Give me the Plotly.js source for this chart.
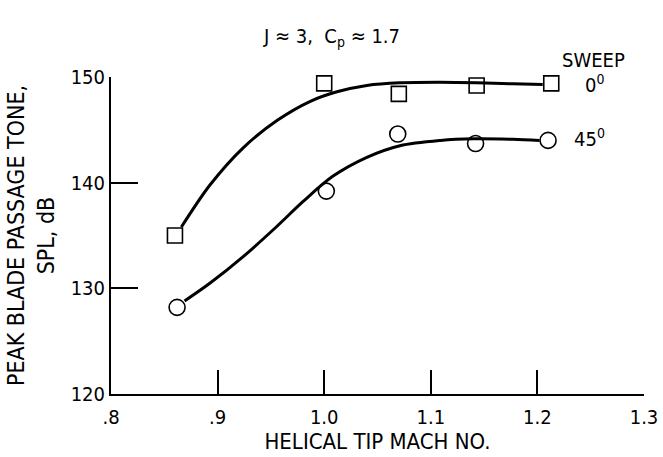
<!DOCTYPE html>
<html>
<head>
<meta charset="utf-8">
<script src="https://cdn.plot.ly/plotly-3.0.1.min.js"></script>
<style>
  html, body { margin: 0; padding: 0; background: #fff; }
  #chart { width: 663px; height: 457px; }
</style>
</head>
<body>
<div id="chart"></div>
<script>
// Measured points, sweep 0 deg (squares)
const machSweep0 = [0.860, 1.000, 1.070, 1.143, 1.213];
const splSweep0  = [135.0, 149.4, 148.4, 149.2, 149.4];

// Measured points, sweep 45 deg (circles)
const machSweep45 = [0.862, 1.002, 1.069, 1.142, 1.210];
const splSweep45  = [128.2, 139.2, 144.6, 143.7, 144.0];

// Faired curves
const fairX0 = [0.866, 0.893, 0.924, 0.956, 0.987, 1.012, 1.040, 1.071, 1.109, 1.143, 1.177, 1.205];
const fairY0 = [135.8, 139.8, 143.3, 145.9, 147.7, 148.6, 149.2, 149.45, 149.5, 149.45, 149.35, 149.3];
const fairX45 = [0.869, 0.893, 0.924, 0.956, 0.980, 1.008, 1.040, 1.071, 1.109, 1.140, 1.177, 1.202];
const fairY45 = [128.8, 130.5, 133.0, 135.9, 138.2, 140.6, 142.4, 143.5, 144.0, 144.15, 144.1, 144.0];

const xTickVals = [0.8, 0.9, 1.0, 1.1, 1.2, 1.3];
const xTickText = ['.8', '.9', '1.0', '1.1', '1.2', '1.3'];
const yTickVals = [120, 130, 140, 150];
const yTickText = ['120', '130', '140', '150'];

const titleText = 'J \u2248 3,  C<sub>p</sub> \u2248 1.7';
const xTitle = 'HELICAL TIP MACH NO.';
const yTitle = 'PEAK BLADE PASSAGE TONE,<br>SPL, dB';
const sweepTitle = 'SWEEP';
const sweepLabels = ['0<sup>0</sup>', '45<sup>0</sup>'];

const FONT = '"Liberation Sans Narrow", "DejaVu Sans Condensed", "Arial Narrow", sans-serif';

const traces = [
  { x: fairX0, y: fairY0, mode: 'lines', line: { color: '#000', width: 3, shape: 'spline', smoothing: 0.9 }, hoverinfo: 'skip', cliponaxis: false },
  { x: fairX45, y: fairY45, mode: 'lines', line: { color: '#000', width: 3, shape: 'spline', smoothing: 0.9 }, hoverinfo: 'skip', cliponaxis: false },
  { x: machSweep0, y: splSweep0, mode: 'markers', cliponaxis: false,
    marker: { symbol: 'square-open', size: 15, color: '#000', line: { width: 1.6, color: '#000' } } },
  { x: machSweep45, y: splSweep45, mode: 'markers', cliponaxis: false,
    marker: { symbol: 'circle-open', size: 16, color: '#000', line: { width: 1.6, color: '#000' } } }
];

const layout = {
  width: 663, height: 457,
  margin: { l: 111, r: 19, t: 77, b: 63 },
  paper_bgcolor: '#fff', plot_bgcolor: '#fff',
  showlegend: false,
  font: { family: FONT, color: '#000', size: 20 },
  title: { text: titleText, font: { family: FONT, size: 20, color: '#000' },
           x: 332 / 663, xref: 'container', xanchor: 'center',
           y: 1 - 36 / 457, yref: 'container', yanchor: 'middle' },
  xaxis: {
    range: [0.8, 1.3], tickmode: 'array', tickvals: xTickVals, ticktext: xTickText,
    showgrid: false, zeroline: false, showline: true, linecolor: '#000', linewidth: 2,
    ticks: 'inside', ticklen: 24, tickwidth: 2, tickcolor: '#000',
    ticklabelstandoff: 4,
    tickfont: { family: FONT, size: 20, color: '#000' },
    title: { text: xTitle, font: { family: FONT, size: 22, color: '#000' }, standoff: 4 }
  },
  yaxis: {
    range: [120, 150], tickmode: 'array', tickvals: yTickVals, ticktext: yTickText,
    showgrid: false, zeroline: false, showline: true, linecolor: '#000', linewidth: 2,
    ticks: 'inside', ticklen: 27, tickwidth: 2, tickcolor: '#000',
    tickfont: { family: FONT, size: 20, color: '#000' },
    title: { text: yTitle, font: { family: FONT, size: 23, color: '#000' }, standoff: 10 }
  },
  annotations: [
    { text: sweepTitle, x: (593 - 111) / 533, y: 1 + (77 - 60) / 317, xref: 'paper', yref: 'paper', showarrow: false,
      font: { family: FONT, size: 20, color: '#000' }, xanchor: 'center', yanchor: 'middle' },
    { text: sweepLabels[0], x: 1.254, y: 149.3, xref: 'x', yref: 'y', showarrow: false,
      font: { family: FONT, size: 20, color: '#000' }, xanchor: 'center', yanchor: 'middle' },
    { text: sweepLabels[1], x: 1.249, y: 144.2, xref: 'x', yref: 'y', showarrow: false,
      font: { family: FONT, size: 20, color: '#000' }, xanchor: 'center', yanchor: 'middle' }
  ]
};

Plotly.newPlot('chart', traces, layout, { staticPlot: true, displayModeBar: false });
</script>
</body>
</html>
